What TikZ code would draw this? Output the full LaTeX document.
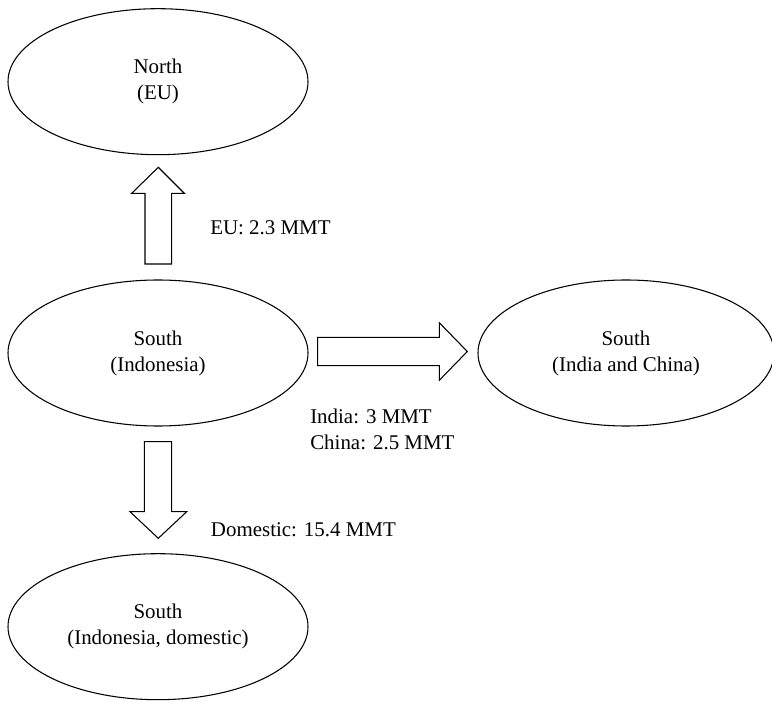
\documentclass[tikz,border=0pt]{standalone}
\usepackage{fontspec}
\setmainfont{Liberation Serif}
\usetikzlibrary{shapes.geometric}
\begin{document}
\begin{tikzpicture}[x=0.75pt,y=-0.75pt,
  region/.style={ellipse,draw,line width=0.8pt,inner sep=0pt,
    minimum width=300*0.75pt,minimum height=146*0.75pt,
    align=center,font=\fontsize{15.7}{19.5}\selectfont},
  flow/.style={draw,line width=0.8pt,line join=miter,fill=white},
  amount/.style={anchor=base west,inner sep=0pt,align=left,
    font=\fontsize{15.7}{19.5}\selectfont}]
\useasboundingbox (0,0) rectangle (772,702);

% regions
\node[region] (north) at (158,81.7) {North\\(EU)};
\node[region] (indo)  at (158,353)  {South\\(Indonesia)};
\node[region,minimum width=296*0.75pt] (asia) at (626,353) {South\\(India and China)};
\node[region] (dom)   at (158,626.7) {South\\(Indonesia, domestic)};

% block arrows
\draw[flow] (145,264) -- (145,193.3) -- (131.7,193.3) -- (158.3,167.3)
  -- (184.3,193.3) -- (171.7,193.3) -- (171.7,264) -- cycle;
\draw[flow] (317.7,337.3) -- (439.3,337.3) -- (439.3,322.7) -- (467.3,351.5)
  -- (439.3,380.3) -- (439.3,365.7) -- (317.7,365.7) -- cycle;
\draw[flow] (144.3,441.7) -- (171.7,441.7) -- (171.7,511.7) -- (186.7,511.7)
  -- (158.3,538.3) -- (130,511.7) -- (144.3,511.7) -- cycle;

% amounts (base anchor of a two-line node sits on its last line)
\node[amount] (eu) at (210,234.3) {EU: 2.3 MMT};
\node[amount] (ic) at (310,450) {India: 3 MMT\\China: 2.5 MMT};
\node[amount] (dm) at (210.7,537) {Domestic: 15.4 MMT};
\end{tikzpicture}
\end{document}
